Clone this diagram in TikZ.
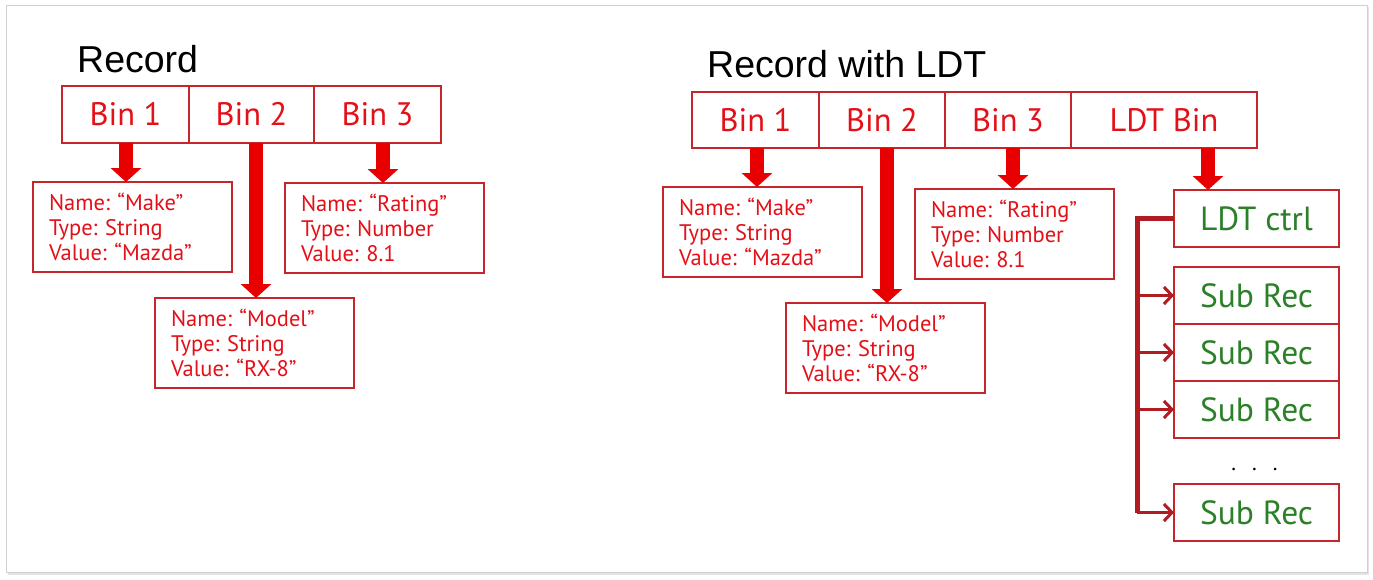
\documentclass[tikz,border=0pt]{standalone}
\usepackage{fontspec}
\setmainfont{PT Sans}
\newfontfamily\titlefont{Liberation Sans}
\usetikzlibrary{arrows.meta}
\definecolor{boxred}{RGB}{196,38,44}
\definecolor{txtred}{RGB}{228,16,24}
\definecolor{arrred}{RGB}{232,0,0}
\definecolor{darkred}{RGB}{176,28,34}
\definecolor{txtgreen}{RGB}{44,128,40}
\definecolor{framegray}{RGB}{208,208,208}
\definecolor{shadowgray}{RGB}{228,228,228}
\frenchspacing
\begin{document}
\begin{tikzpicture}[x=1pt,y=-1pt,
  binbox/.style={draw=boxred, line width=1.5pt, minimum height=57pt, inner sep=0pt, outer sep=0pt,
    text=txtred, font=\fontsize{32.5}{36}\selectfont, anchor=north west},
  databox/.style={draw=boxred, line width=1.5pt, minimum width=199pt, minimum height=90pt,
    text width=167pt, inner xsep=16pt, inner ysep=0pt, outer sep=0pt, align=left, text=txtred,
    font=\fontsize{22.5}{24.7}\selectfont, anchor=north west},
  subbox/.style={draw=boxred, line width=1.2pt, minimum width=165pt, minimum height=57pt,
    inner sep=0pt, outer sep=0pt, text=txtgreen, font=\fontsize{33.5}{36}\selectfont, anchor=north west},
  titletext/.style={font=\titlefont\fontsize{37.5}{40}\selectfont, anchor=base west, inner sep=0pt},
  bigarrow/.style={draw=arrred, line width=14pt, -{Triangle[width=30pt,length=14pt]}},
  trunkline/.style={draw=darkred, line width=5pt, line join=miter},
  branch/.style={draw=darkred, line width=3pt, -{Straight Barb[length=8pt,width=17pt]}},
]
\useasboundingbox (0,0) rectangle (1373,579);
% frame
\fill[shadowgray] (8,7) rectangle (1369,575);
\draw[framegray, fill=white, line width=1pt] (6,5) rectangle (1367,572);

% ---------- left: Record ----------
\node[titletext] (ltitle) at (77,72) {Record};
\node[binbox, minimum width=127pt] (lb1) at (62,86) {Bin 1};
\node[binbox, minimum width=125pt] (lb2) at (189,86) {Bin 2};
\node[binbox, minimum width=127pt] (lb3) at (314,86) {Bin 3};

\node[databox] (lmake) at (33,182) {Name: “Make”\\Type: String\\Value: “Mazda”};
\node[databox] (lrate) at (285,183) {Name: “Rating”\\Type: Number\\Value: 8.1};
\node[databox] (lmodel) at (155,298) {Name: “Model”\\Type: String\\Value: “RX-8”};

\draw[bigarrow] ([xshift=0.5pt]lb1.south) -- ([xshift=0.5pt]lb1.south |- lmake.north);
\draw[bigarrow] ([xshift=4.5pt]lb2.south) -- ([xshift=4.5pt]lb2.south |- lmodel.north);
\draw[bigarrow] ([xshift=5.5pt]lb3.south) -- ([xshift=5.5pt]lb3.south |- lrate.north);

% ---------- right: Record with LDT ----------
\node[titletext] (rtitle) at (707,77) {Record with LDT};
\node[binbox, minimum width=127pt, minimum height=56pt] (rb1) at (692,92) {Bin 1};
\node[binbox, minimum width=126pt, minimum height=56pt] (rb2) at (819,92) {Bin 2};
\node[binbox, minimum width=126pt, minimum height=56pt] (rb3) at (945,92) {Bin 3};
\node[binbox, minimum width=186pt, minimum height=56pt] (rldt) at (1071,92) {LDT Bin};

\node[databox] (rmake) at (663,187) {Name: “Make”\\Type: String\\Value: “Mazda”};
\node[databox] (rrate) at (915,189) {Name: “Rating”\\Type: Number\\Value: 8.1};
\node[databox] (rmodel) at (786,303) {Name: “Model”\\Type: String\\Value: “RX-8”};

\node[subbox] (ctrl) at (1174,190) {LDT ctrl};
\node[subbox] (s1) at (1174,267) {Sub Rec};
\node[subbox] (s2) at (1174,324) {Sub Rec};
\node[subbox] (s3) at (1174,381) {Sub Rec};
\node[subbox] (s4) at (1174,484) {Sub Rec};
\node[anchor=base, inner sep=0pt, font=\fontsize{22}{24}\selectfont] (dots) at (1254.5,470)
  {.\hspace{16pt}.\hspace{16pt}.};

\draw[bigarrow] ([xshift=1.5pt]rb1.south) -- ([xshift=1.5pt]rb1.south |- rmake.north);
\draw[bigarrow] ([xshift=5pt]rb2.south) -- ([xshift=5pt]rb2.south |- rmodel.north);
\draw[bigarrow] ([xshift=5pt]rb3.south) -- ([xshift=5pt]rb3.south |- rrate.north);
\draw[bigarrow] ([xshift=44pt]rldt.south) -- ([xshift=44pt]rldt.south |- ctrl.north);

\coordinate (tk) at (1137,0);
\draw[trunkline] (ctrl.west) -- (ctrl.west -| tk) -- (tk |- s4.west);
\draw[branch] (tk |- s1.west) -- (s1.west);
\draw[branch] (tk |- s2.west) -- (s2.west);
\draw[branch] (tk |- s3.west) -- (s3.west);
\draw[branch] (tk |- s4.west) -- (s4.west);
\end{tikzpicture}
\end{document}
